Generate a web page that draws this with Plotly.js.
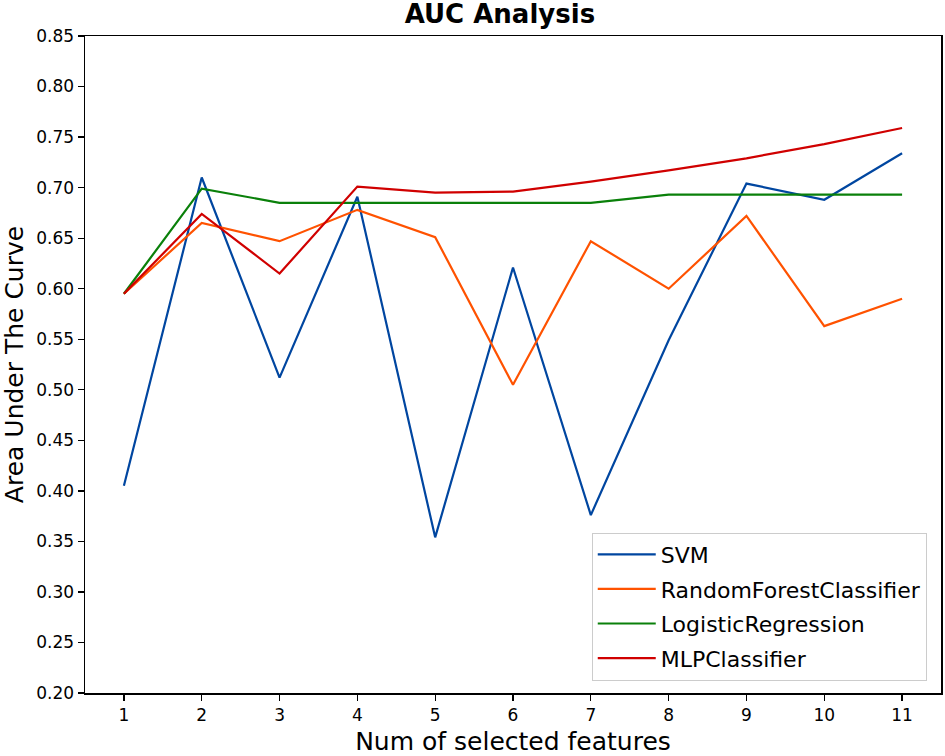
<!DOCTYPE html>
<html>
<head>
<meta charset="utf-8">
<script src="https://cdn.plot.ly/plotly-3.0.1.min.js"></script>
<style>html,body{margin:0;padding:0;background:#fff;}#chart{width:945px;height:756px;}</style>
</head>
<body>
<div id="chart"></div>
<script>
const features = [1, 2, 3, 4, 5, 6, 7, 8, 9, 10, 11];
const svm = [0.405, 0.710, 0.512, 0.691, 0.354, 0.621, 0.376, 0.549, 0.704, 0.688, 0.734];
const randomForest = [0.595, 0.665, 0.647, 0.678, 0.651, 0.505, 0.647, 0.600, 0.672, 0.563, 0.590];
const logisticRegression = [0.595, 0.699, 0.685, 0.685, 0.685, 0.685, 0.685, 0.693, 0.693, 0.693, 0.693];
const mlp = [0.595, 0.674, 0.615, 0.701, 0.695, 0.696, 0.706, 0.717, 0.729, 0.743, 0.759];
const seriesNames = ["SVM", "RandomForestClassifier", "LogisticRegression", "MLPClassifier"];
const seriesColors = ["#0046a0", "#ff5200", "#0a800a", "#d00000"];
const seriesValues = [svm, randomForest, logisticRegression, mlp];
const yTicks = [0.20, 0.25, 0.30, 0.35, 0.40, 0.45, 0.50, 0.55, 0.60, 0.65, 0.70, 0.75, 0.80, 0.85];

const font = "DejaVu Sans, Arial, sans-serif";
const traces = seriesValues.map((vals, i) => ({
  x: features, y: vals, type: "scatter", mode: "lines",
  name: seriesNames[i], legendgroup: "g" + i,
  line: {color: seriesColors[i], width: 2.2}
}));

const layout = {
  width: 945, height: 756,
  margin: {l: 85, r: 4, t: 36, b: 63},
  paper_bgcolor: "#fff", plot_bgcolor: "#fff",
  font: {family: font, color: "#000", size: 17},
  title: {text: "<b>AUC Analysis</b>", font: {family: font, size: 26, color: "#000"},
          x: 0.529, xanchor: "center", y: 0.982, yanchor: "middle"},
  xaxis: {range: [0.5, 11.5], tickvals: features, ticks: "outside", ticklen: 6, tickwidth: 1.3,
          tickcolor: "#000", showline: true, linecolor: "#000", linewidth: 1.5, mirror: true,
          showgrid: false, zeroline: false, tickfont: {size: 17},
          title: {text: "Num of selected features", font: {size: 25}, standoff: 8}},
  yaxis: {range: [0.2, 0.85], tickvals: yTicks, tickformat: ".2f", ticks: "outside", ticklen: 6,
          tickwidth: 1.3, tickcolor: "#000", showline: true, linecolor: "#000", linewidth: 1.5,
          mirror: true, showgrid: false, zeroline: false, tickfont: {size: 17},
          title: {text: "Area Under The Curve", font: {size: 25}, standoff: 10}},
  legend: {x: 0.592, y: 0.019, xanchor: "left", yanchor: "bottom", bgcolor: "#fff",
           bordercolor: "#cccccc", borderwidth: 1, font: {size: 22}, itemwidth: 58,
           tracegroupgap: 3},
  showlegend: true
};
Plotly.newPlot("chart", traces, layout, {displayModeBar: false, staticPlot: true});
</script>
</body>
</html>
